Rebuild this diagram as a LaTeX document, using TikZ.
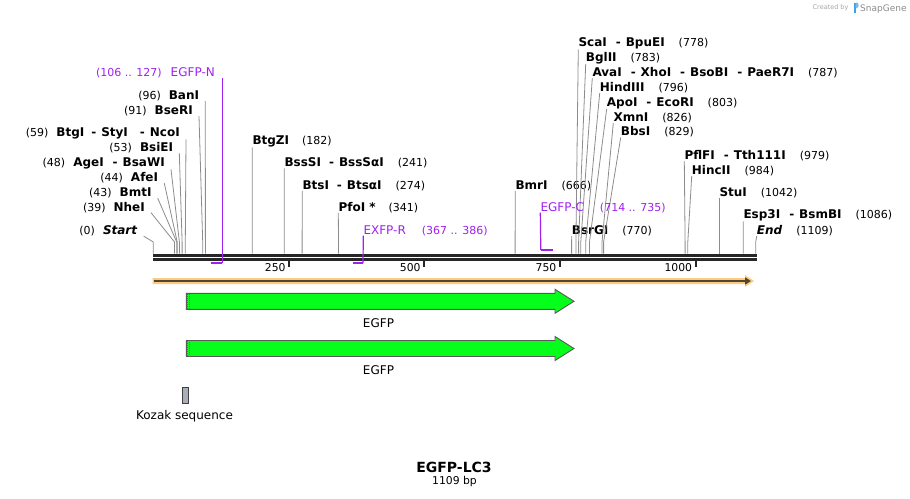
\documentclass[tikz,border=0pt]{standalone}
\usepackage{fontspec}
\setmainfont{DejaVu Sans}
\usetikzlibrary{calc,arrows.meta}

\definecolor{primer}{RGB}{160,32,240}
\definecolor{featgreen}{RGB}{5,255,26}
\definecolor{featorange}{RGB}{250,203,128}
\definecolor{featdark}{RGB}{85,68,45}
\definecolor{leadgray}{RGB}{140,140,140}
\definecolor{kozakgray}{RGB}{168,174,186}
\definecolor{logoblue}{RGB}{60,160,230}

\newcommand{\bpnum}[1]{{\mdseries\fontsize{11}{13}\selectfont(#1)}}

\begin{document}
\begin{tikzpicture}[
    x=1pt, y=-1pt,
    every node/.style={font=\fontsize{12}{14}\selectfont},
    enzL/.style={anchor=base east, inner xsep=6pt, inner ysep=0pt,
                 font=\fontsize{12}{14}\selectfont\bfseries},
    enzR/.style={anchor=base west, inner sep=0pt,
                 font=\fontsize{12}{14}\selectfont\bfseries},
    leader/.style={draw=leadgray, line width=0.8pt},
    primerlbl/.style={text=primer, inner ysep=0pt, font=\fontsize{12}{14}\selectfont},
    primerline/.style={draw=primer, line width=1.2pt},
    primertick/.style={draw=primer, line width=2.2pt},
    barline/.style={draw=black!85, line width=2.8pt},
    tick/.style={draw=black!85, line width=1.8pt},
    ticklbl/.style={anchor=base east, inner sep=0pt, font=\fontsize{10.8}{12}\selectfont},
    featarrow/.style={fill=featgreen, draw=black!65, line width=0.9pt}
]

\useasboundingbox (0,0) rectangle (910,498);

%======================
% Sites on the sequence
%======================

\foreach \n/\x in {Start/153.3, Nhe/174.5, Bmt/176.7, Afe/177.2, Age/179.4,
                   BsiE/182.1, Btg/185.3, BseR/202.7, Ban/205.4,
                   BtgZ/252.2, BssS/284.2, Bts/302.1, Pfo/338.5, Bmr/515.1,
                   BsrG/571.6, Sca/575.9, Bgl/578.6, Ava/580.8, Hind/585.7,
                   Apo/589.5, Xmn/602.0, Bbs/603.6, PflF/685.1, Hinc/687.8,
                   Stu/719.3, Esp/743.2, End/755.7}
{
  \coordinate (s\n) at (\x,253.5);
  \coordinate (e\n) at (\x,242);
}

\coordinate (bar0) at (153,0);
\coordinate (bar1) at (756.7,0);

%======================
% Enzyme labels, left side
%======================

\node[enzL] (lBan)   at (205.3,99.5)  {\bpnum{96}\hspace{8pt}BanI};
\node[enzL] (lBseR)  at (199,114.5)   {\bpnum{91}\hspace{8pt}BseRI};
\node[enzL] (lBtg)   at (186,136.5)   {\bpnum{59}\hspace{8pt}BtgI\hspace{7pt}-\hspace{5pt}StyI\hspace{12pt}-\hspace{5pt}NcoI};
\node[enzL] (lBsiE)  at (179.3,151.5) {\bpnum{53}\hspace{8pt}BsiEI};
\node[enzL] (lAge)   at (171,166.5)   {\bpnum{48}\hspace{8pt}AgeI\hspace{9pt}-\hspace{5pt}BsaWI};
\node[enzL] (lAfe)   at (164.3,181.5) {\bpnum{44}\hspace{8pt}AfeI};
\node[enzL] (lBmt)   at (157.7,196.5) {\bpnum{43}\hspace{8pt}BmtI};
\node[enzL] (lNhe)   at (151,211)     {\bpnum{39}\hspace{8pt}NheI};
\node[enzL] (lStart) at (143.7,234.5) {\bpnum{0}\hspace{8pt}\textit{Start}};

%======================
% Enzyme labels, right side
%======================

\node[enzR] (lBtgZ) at (252.3,144.5) {BtgZI\hspace{13pt}\bpnum{182}};
\node[enzR] (lBssS) at (284.3,166.8) {BssSI\hspace{8pt}-\hspace{5pt}BssSαI\hspace{14pt}\bpnum{241}};
\node[enzR] (lBts)  at (302.3,189.2) {BtsI\hspace{8pt}-\hspace{5pt}BtsαI\hspace{14pt}\bpnum{274}};
\node[enzR] (lPfo)  at (338.3,211.2) {PfoI *\hspace{13pt}\bpnum{341}};
\node[enzR] (lBmr)  at (515.3,189.2) {BmrI\hspace{14pt}\bpnum{666}};
\node[enzR] (lBsrG) at (571.7,234.5) {BsrGI\hspace{14pt}\bpnum{770}};

\node[enzR] (lSca)  at (578.3,46.8)  {ScaI\hspace{9pt}-\hspace{5pt}BpuEI\hspace{14pt}\bpnum{778}};
\node[enzR] (lBgl)  at (585.7,61.2)  {BglII\hspace{14pt}\bpnum{783}};
\node[enzR] (lAva)  at (592.3,76.5)  {AvaI\hspace{9pt}-\hspace{5pt}XhoI\hspace{9pt}-\hspace{5pt}BsoBI\hspace{9pt}-\hspace{5pt}PaeR7I\hspace{14pt}\bpnum{787}};
\node[enzR] (lHind) at (599.7,91.5)  {HindIII\hspace{14pt}\bpnum{796}};
\node[enzR] (lApo)  at (606.7,106.2) {ApoI\hspace{9pt}-\hspace{5pt}EcoRI\hspace{14pt}\bpnum{803}};
\node[enzR] (lXmn)  at (613.3,121.5) {XmnI\hspace{14pt}\bpnum{826}};
\node[enzR] (lBbs)  at (620.7,135.8) {BbsI\hspace{14pt}\bpnum{829}};

\node[enzR] (lPflF) at (684.3,159.5) {PflFI\hspace{9pt}-\hspace{5pt}Tth111I\hspace{14pt}\bpnum{979}};
\node[enzR] (lHinc) at (691.7,174.5) {HincII\hspace{14pt}\bpnum{984}};
\node[enzR] (lStu)  at (719.3,196.8) {StuI\hspace{14pt}\bpnum{1042}};
\node[enzR] (lEsp)  at (743.3,218.8) {Esp3I\hspace{9pt}-\hspace{5pt}BsmBI\hspace{14pt}\bpnum{1086}};
\node[enzR] (lEnd)  at (756.7,234.5) {\textit{End}\hspace{14pt}\bpnum{1109}};

%======================
% Leader lines
%======================

\foreach \n in {Start, Nhe, Bmt, Afe, Age, BsiE, Btg, BseR, Ban}
  \draw[leader] (l\n.south east) -- (e\n) -- (s\n);

\foreach \n in {BtgZ, BssS, Bts, Pfo, Bmr, BsrG, Sca, Bgl, Ava, Hind,
                Apo, Xmn, Bbs, PflF, Hinc, Stu, Esp, End}
  \draw[leader] (l\n.south west) -- (e\n) -- (s\n);

%======================
% Sequence bar and ticks
%======================

\draw[barline] ($(bar0)+(0,255.3)$) -- ($(bar1)+(0,255.3)$);
\draw[barline] ($(bar0)+(0,259.3)$) -- ($(bar1)+(0,259.3)$);

\foreach \t/\x in {250/289.3, 500/424.3, 750/560.0, 1000/695.8}
{
  \draw[tick] (\x,260) -- (\x,266.5);
  \node[ticklbl] (t\t) at (\x-3.5,271.5) {\t};
}

%======================
% Primers
%======================

\node[primerlbl, anchor=base east, inner xsep=7.3pt] (pEGFPN) at (222.3,76.5)
  {{\fontsize{11}{13}\selectfont(106 .. 127)}\hspace{9pt}EGFP-N};
\coordinate (pN1) at (222.3,263);
\coordinate (pN0) at (210.9,263);
\draw[primerline] (pEGFPN.south east) -- (pN1);
\draw[primertick] (pN1) -- (pN0);

\node[primerlbl, anchor=base west, inner xsep=0pt] (pEXFPR) at (363.3,234)
  {EXFP-R\hspace{16pt}{\fontsize{11}{13}\selectfont(367 .. 386)}};
\coordinate (pR1) at (363.0,263);
\coordinate (pR0) at (352.7,263);
\draw[primerline] (pEXFPR.south west) -- (pR1);
\draw[primertick] (pR1) -- (pR0);

\node[primerlbl, anchor=base west, inner xsep=0pt] (pEGFPC) at (540.3,211)
  {EGFP-C\hspace{16pt}{\fontsize{11}{13}\selectfont(714 .. 735)}};
\coordinate (pC0) at (540.8,250);
\coordinate (pC1) at (552.5,250);
\draw[primerline] (pEGFPC.south west) -- (pC0);
\draw[primertick] (pC0) -- (pC1);

%======================
% Features
%======================

% whole insert
\fill[featorange] (152.7,278) -- (745,278) -- (745,275) -- (754,281)
  -- (745,287) -- (745,284) -- (152.7,284) -- cycle;
\draw[featdark, line width=2pt, -{Triangle[length=6pt,width=7pt]}]
  (153.5,281) -- (751,281);

% EGFP arrows
\foreach \y/\i in {301.3/1, 348.5/2}
{
  \draw[featarrow] (186.3,\y-8) -- (555,\y-8) -- (555,\y-12) -- (574,\y)
    -- (555,\y+12) -- (555,\y+8) -- (186.3,\y+8) -- cycle;
  \draw[black!60, line width=0.6pt, dash pattern=on 1pt off 1pt] (187.6,\y-7.5) -- (187.6,\y+7.5);
  \draw[black!60, line width=0.6pt, dash pattern=on 1pt off 1pt] (189.4,\y-7) -- (189.4,\y+7.5);
  \node (egfp\i) at (378.5,\y+22) {EGFP};
}

% Kozak sequence
\draw[draw=black!75, fill=kozakgray, line width=0.9pt] (182.5,387.5) rectangle (188.5,403);
\node (kozak) at (184.5,416.5) {Kozak sequence};

%======================
% Title
%======================

\node[font=\fontsize{14}{16}\selectfont\bfseries] (title) at (454,467) {EGFP-LC3};
\node[font=\fontsize{10.8}{12}\selectfont] (size) at (454.5,482) {1109 bp};

%======================
% Watermark
%======================

\node[anchor=base west, inner sep=0pt, text=black!35, font=\fontsize{6.5}{8}\selectfont]
  (made) at (812.5,9.5) {Created by};
\fill[logoblue] (853.5,2.5) rectangle (855.5,12.5);
\fill[logoblue!70] (855.5,2.5) -- (857,2.5) to[out=0,in=0] (857,8) -- (855.5,8) -- cycle;
\node[anchor=base west, inner sep=0pt, text=black!45, font=\fontsize{9}{10}\selectfont]
  (sg) at (860,11) {SnapGene};

\end{tikzpicture}
\end{document}
